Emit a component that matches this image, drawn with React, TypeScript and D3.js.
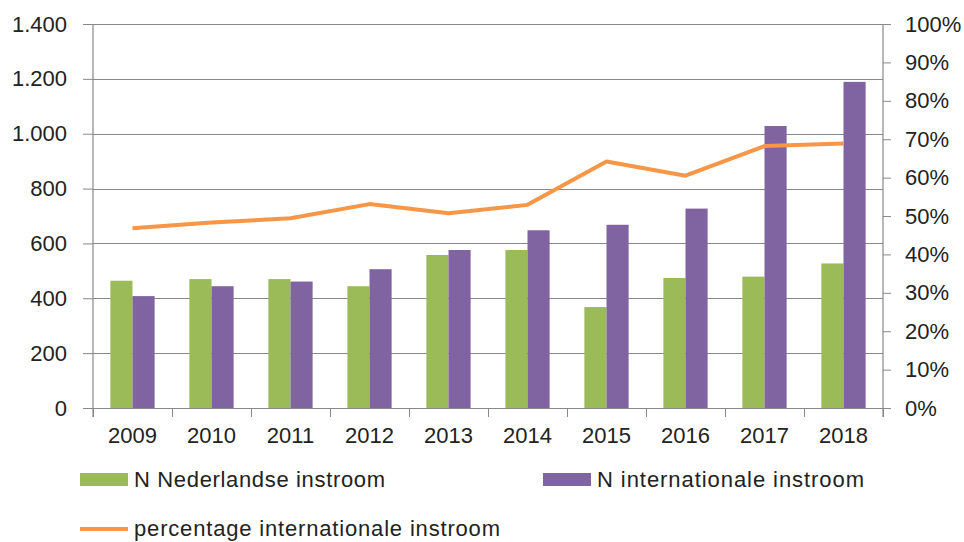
import React, { useEffect, useRef } from "react";
import * as d3 from "d3";

// values
const years = ["2009", "2010", "2011", "2012", "2013", "2014", "2015", "2016", "2017", "2018"];
const nlInstroom = [464, 470, 470, 444, 558, 576, 368, 474, 479, 527];
const intlInstroom = [408, 444, 461, 506, 576, 648, 668, 727, 1028, 1189];
const pctIntl = [46.8, 48.3, 49.4, 53.1, 50.7, 52.9, 64.2, 60.5, 68.2, 68.9];

const leftTicks = [0, 200, 400, 600, 800, 1000, 1200, 1400];
const rightTicks = [0, 10, 20, 30, 40, 50, 60, 70, 80, 90, 100];

const GREEN = "#9BBB59";
const PURPLE = "#8064A2";
const ORANGE = "#F79646";
const AXIS = "#888888";
const FONT = "Liberation Sans, Arial, sans-serif";

export default function App() {
  const ref = useRef<SVGSVGElement>(null);

  useEffect(() => {
    const svg = d3.select(ref.current);
    svg.selectAll("*").remove();

    const margin = { top: 24, right: 81, bottom: 134, left: 93 };
    const width = 964 - margin.left - margin.right;
    const height = 542 - margin.top - margin.bottom;

    const g = svg.append("g").attr("transform", `translate(${margin.left},${margin.top})`);

    const x = d3.scaleBand<string>().domain(years).range([0, width]);
    const yL = d3.scaleLinear().domain([0, 1400]).range([height, 0]);
    const yR = d3.scaleLinear().domain([0, 100]).range([height, 0]);

    // gridlines
    g.append("g")
      .selectAll("line")
      .data(leftTicks)
      .enter()
      .append("line")
      .attr("x1", 0)
      .attr("x2", width)
      .attr("y1", (d) => Math.round(yL(d)) + 0.5)
      .attr("y2", (d) => Math.round(yL(d)) + 0.5)
      .attr("stroke", AXIS)
      .attr("stroke-width", 1.2);

    // bars
    const bw = x.bandwidth() * 0.28;
    const groupW = bw * 2;
    const bars = g.append("g");
    bars
      .selectAll("rect.nl")
      .data(years)
      .enter()
      .append("rect")
      .attr("x", (d) => (x(d) as number) + x.bandwidth() / 2 - groupW / 2)
      .attr("y", (d, i) => yL(nlInstroom[i]))
      .attr("width", bw)
      .attr("height", (d, i) => height - yL(nlInstroom[i]))
      .attr("fill", GREEN);
    bars
      .selectAll("rect.intl")
      .data(years)
      .enter()
      .append("rect")
      .attr("x", (d) => (x(d) as number) + x.bandwidth() / 2 - groupW / 2 + bw)
      .attr("y", (d, i) => yL(intlInstroom[i]))
      .attr("width", bw)
      .attr("height", (d, i) => height - yL(intlInstroom[i]))
      .attr("fill", PURPLE);

    // percentage line
    const line = d3
      .line<number>()
      .x((d, i) => (x(years[i]) as number) + x.bandwidth() / 2)
      .y((d) => yR(d));
    g.append("path")
      .datum(pctIntl)
      .attr("d", line)
      .attr("fill", "none")
      .attr("stroke", ORANGE)
      .attr("stroke-width", 4)
      .attr("stroke-linejoin", "round");

    // left axis
    const left = g
      .append("g")
      .call(
        d3
          .axisLeft(yL)
          .tickValues(leftTicks)
          .tickSize(10)
          .tickFormat((d) => d3.format(",")(d as number).replace(/,/g, "."))
      );
    // right axis
    const right = g
      .append("g")
      .attr("transform", `translate(${width},0)`)
      .call(
        d3
          .axisRight(yR)
          .tickValues(rightTicks)
          .tickSize(8)
          .tickFormat((d) => `${d}%`)
      );
    // bottom axis
    const bottom = g
      .append("g")
      .attr("transform", `translate(0,${height})`)
      .call(d3.axisBottom(x).tickSize(0));
    bottom
      .selectAll(".bound")
      .data(d3.range(years.length + 1))
      .enter()
      .append("line")
      .attr("x1", (i) => Math.round(i * x.step()) + 0.5)
      .attr("x2", (i) => Math.round(i * x.step()) + 0.5)
      .attr("y1", 0)
      .attr("y2", 9)
      .attr("stroke", AXIS);

    [left, right, bottom].forEach((a) => {
      a.select(".domain").attr("stroke", AXIS).attr("stroke-width", 1.2);
      a.selectAll(".tick line").attr("stroke", AXIS);
      a.selectAll("text")
        .attr("fill", "#222")
        .style("font-family", FONT)
        .style("font-size", "22px");
    });
    left.select(".domain").attr("d", `M0,0V${height + 9}`);
    right.select(".domain").attr("d", `M0,0V${height + 9}`);
    left.selectAll("text").attr("x", -26);
    right.selectAll("text").attr("x", 22);
    bottom.selectAll("text").attr("y", 19);

    // legend
    const leg = svg.append("g").style("font-family", FONT).style("font-size", "22px");
    const items = [
      { label: "N Nederlandse instroom", color: GREEN, kind: "rect", lx: 80, ly: 479, len: 251 },
      { label: "N internationale instroom", color: PURPLE, kind: "rect", lx: 543, ly: 479, len: 267 },
      { label: "percentage internationale instroom", color: ORANGE, kind: "line", lx: 80, ly: 528, len: 366 },
    ];
    items.forEach((it) => {
      if (it.kind === "rect") {
        leg.append("rect").attr("x", it.lx).attr("y", it.ly - 6).attr("width", 48).attr("height", 13).attr("fill", it.color);
      } else {
        leg.append("line")
          .attr("x1", it.lx)
          .attr("x2", it.lx + 48)
          .attr("y1", it.ly + 1)
          .attr("y2", it.ly + 1)
          .attr("stroke", it.color)
          .attr("stroke-width", 4);
      }
      leg.append("text")
        .attr("x", it.lx + 54)
        .attr("y", it.ly)
        .attr("dy", "0.35em")
        .attr("fill", "#222")
        .attr("textLength", it.len)
        .attr("lengthAdjust", "spacing")
        .text(it.label);
    });
  }, []);

  return (
    <svg
      ref={ref}
      width={964}
      height={542}
      style={{ position: "absolute", left: 0, top: 0, background: "#fff" }}
    />
  );
}
